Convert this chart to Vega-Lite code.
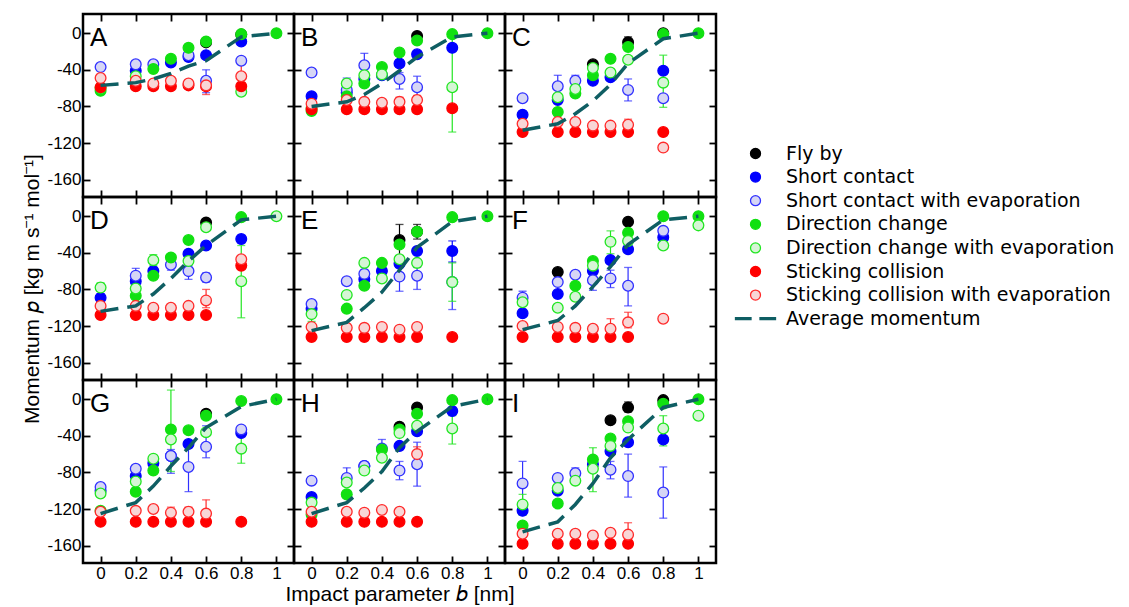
{
"$schema": "https://vega.github.io/schema/vega-lite/v6.json",
"padding": {"left": 20, "top": 11, "right": 5, "bottom": 0},
"datasets": {"d": [
{"p":"A","b":0.6,"s":"FB","v":-10,"lo":-13,"hi":-6},{"p":"A","b":0.8,"s":"FB","v":-1.5},
{"p":"B","b":0.6,"s":"FB","v":-3},
{"p":"C","b":0.4,"s":"FB","v":-34},{"p":"C","b":0.6,"s":"FB","v":-10,"lo":-14,"hi":-4},{"p":"C","b":0.8,"s":"FB","v":0},
{"p":"D","b":0.6,"s":"FB","v":-7},
{"p":"E","b":0.5,"s":"FB","v":-26,"lo":-43,"hi":-9},{"p":"E","b":0.6,"s":"FB","v":-17,"lo":-25,"hi":-9},
{"p":"F","b":0.2,"s":"FB","v":-61},{"p":"F","b":0.6,"s":"FB","v":-6},
{"p":"G","b":0.6,"s":"FB","v":-16},
{"p":"H","b":0.5,"s":"FB","v":-30},{"p":"H","b":0.6,"s":"FB","v":-9,"lo":-13,"hi":-5},
{"p":"I","b":0.5,"s":"FB","v":-23},{"p":"I","b":0.6,"s":"FB","v":-9,"lo":-14,"hi":-3},{"p":"I","b":0.8,"s":"FB","v":-1},

{"p":"A","b":0.2,"s":"SC","v":-41},{"p":"A","b":0.4,"s":"SC","v":-32},{"p":"A","b":0.5,"s":"SC","v":-26},{"p":"A","b":0.6,"s":"SC","v":-24},{"p":"A","b":0.8,"s":"SC","v":-9},
{"p":"B","b":0,"s":"SC","v":-69},{"p":"B","b":0.2,"s":"SC","v":-65},{"p":"B","b":0.3,"s":"SC","v":-50},{"p":"B","b":0.4,"s":"SC","v":-46},{"p":"B","b":0.5,"s":"SC","v":-33},{"p":"B","b":0.6,"s":"SC","v":-23},{"p":"B","b":0.8,"s":"SC","v":-16},
{"p":"C","b":0,"s":"SC","v":-89},{"p":"C","b":0.2,"s":"SC","v":-73},{"p":"C","b":0.4,"s":"SC","v":-52},{"p":"C","b":0.5,"s":"SC","v":-48},{"p":"C","b":0.8,"s":"SC","v":-41},
{"p":"D","b":0,"s":"SC","v":-89},{"p":"D","b":0.2,"s":"SC","v":-71},{"p":"D","b":0.3,"s":"SC","v":-60},{"p":"D","b":0.5,"s":"SC","v":-41},{"p":"D","b":0.6,"s":"SC","v":-32},{"p":"D","b":0.8,"s":"SC","v":-25,"lo":-29,"hi":-21},
{"p":"E","b":0,"s":"SC","v":-101},{"p":"E","b":0.3,"s":"SC","v":-69},{"p":"E","b":0.4,"s":"SC","v":-60},{"p":"E","b":0.5,"s":"SC","v":-52},{"p":"E","b":0.6,"s":"SC","v":-38},{"p":"E","b":0.8,"s":"SC","v":-38,"lo":-50,"hi":-27},
{"p":"F","b":0,"s":"SC","v":-106},{"p":"F","b":0.2,"s":"SC","v":-85},{"p":"F","b":0.4,"s":"SC","v":-60},{"p":"F","b":0.5,"s":"SC","v":-48},{"p":"F","b":0.6,"s":"SC","v":-36},{"p":"F","b":0.8,"s":"SC","v":-23},
{"p":"G","b":0,"s":"SC","v":-100},{"p":"G","b":0.2,"s":"SC","v":-84},{"p":"G","b":0.3,"s":"SC","v":-70},{"p":"G","b":0.4,"s":"SC","v":-62},{"p":"G","b":0.5,"s":"SC","v":-49},{"p":"G","b":0.8,"s":"SC","v":-37},
{"p":"H","b":0,"s":"SC","v":-107},{"p":"H","b":0.3,"s":"SC","v":-73},{"p":"H","b":0.5,"s":"SC","v":-51},{"p":"H","b":0.6,"s":"SC","v":-35},{"p":"H","b":0.8,"s":"SC","v":-13},
{"p":"I","b":0,"s":"SC","v":-122},{"p":"I","b":0.2,"s":"SC","v":-100},{"p":"I","b":0.4,"s":"SC","v":-71},{"p":"I","b":0.5,"s":"SC","v":-57},{"p":"I","b":0.6,"s":"SC","v":-47},{"p":"I","b":0.8,"s":"SC","v":-44},

{"p":"A","b":0,"s":"SE","v":-37},{"p":"A","b":0.2,"s":"SE","v":-34,"lo":-38,"hi":-30},{"p":"A","b":0.3,"s":"SE","v":-34},{"p":"A","b":0.5,"s":"SE","v":-24},{"p":"A","b":0.6,"s":"SE","v":-52,"lo":-65,"hi":-40},{"p":"A","b":0.8,"s":"SE","v":-30},
{"p":"B","b":0,"s":"SE","v":-43},{"p":"B","b":0.2,"s":"SE","v":-62,"lo":-74,"hi":-49},{"p":"B","b":0.3,"s":"SE","v":-35,"lo":-47,"hi":-22},{"p":"B","b":0.5,"s":"SE","v":-50,"lo":-61,"hi":-43},{"p":"B","b":0.6,"s":"SE","v":-59,"lo":-70,"hi":-47},
{"p":"C","b":0,"s":"SE","v":-71},{"p":"C","b":0.2,"s":"SE","v":-58,"lo":-69,"hi":-46},{"p":"C","b":0.3,"s":"SE","v":-52,"lo":-59,"hi":-46},{"p":"C","b":0.6,"s":"SE","v":-62,"lo":-74,"hi":-50},{"p":"C","b":0.8,"s":"SE","v":-71},
{"p":"D","b":0.2,"s":"SE","v":-65,"lo":-74,"hi":-57},{"p":"D","b":0.4,"s":"SE","v":-53,"lo":-59,"hi":-47},{"p":"D","b":0.5,"s":"SE","v":-60,"lo":-69,"hi":-54},{"p":"D","b":0.6,"s":"SE","v":-67,"lo":-72,"hi":-62},
{"p":"E","b":0,"s":"SE","v":-96,"lo":-101,"hi":-92},{"p":"E","b":0.2,"s":"SE","v":-71,"lo":-75,"hi":-67},{"p":"E","b":0.3,"s":"SE","v":-63},{"p":"E","b":0.5,"s":"SE","v":-66,"lo":-82,"hi":-56},{"p":"E","b":0.6,"s":"SE","v":-65,"lo":-80,"hi":-56},{"p":"E","b":0.8,"s":"SE","v":-72,"lo":-102,"hi":-42},
{"p":"F","b":0,"s":"SE","v":-89,"lo":-94,"hi":-82},{"p":"F","b":0.2,"s":"SE","v":-72},{"p":"F","b":0.3,"s":"SE","v":-64},{"p":"F","b":0.4,"s":"SE","v":-70,"lo":-81,"hi":-62},{"p":"F","b":0.5,"s":"SE","v":-68,"lo":-78,"hi":-59},{"p":"F","b":0.6,"s":"SE","v":-76,"lo":-98,"hi":-56},{"p":"F","b":0.8,"s":"SE","v":-16},
{"p":"G","b":0,"s":"SE","v":-96},{"p":"G","b":0.2,"s":"SE","v":-76},{"p":"G","b":0.4,"s":"SE","v":-62,"lo":-81,"hi":-55},{"p":"G","b":0.5,"s":"SE","v":-74,"lo":-101,"hi":-49},{"p":"G","b":0.6,"s":"SE","v":-52,"lo":-64,"hi":-29},{"p":"G","b":0.8,"s":"SE","v":-33},
{"p":"H","b":0,"s":"SE","v":-89},{"p":"H","b":0.2,"s":"SE","v":-86,"lo":-95,"hi":-75},{"p":"H","b":0.3,"s":"SE","v":-73},{"p":"H","b":0.4,"s":"SE","v":-54,"lo":-62,"hi":-44},{"p":"H","b":0.5,"s":"SE","v":-78,"lo":-88,"hi":-68},{"p":"H","b":0.6,"s":"SE","v":-71,"lo":-95,"hi":-47},
{"p":"I","b":0,"s":"SE","v":-92,"lo":-115,"hi":-68},{"p":"I","b":0.2,"s":"SE","v":-86},{"p":"I","b":0.3,"s":"SE","v":-81,"lo":-88,"hi":-75},{"p":"I","b":0.5,"s":"SE","v":-77,"lo":-87,"hi":-68},{"p":"I","b":0.6,"s":"SE","v":-84,"lo":-107,"hi":-60},{"p":"I","b":0.8,"s":"SE","v":-102,"lo":-130,"hi":-74},

{"p":"A","b":0,"s":"DC","v":-63},{"p":"A","b":0.3,"s":"DC","v":-39},{"p":"A","b":0.4,"s":"DC","v":-28},{"p":"A","b":0.5,"s":"DC","v":-16},{"p":"A","b":0.6,"s":"DC","v":-9},{"p":"A","b":0.8,"s":"DC","v":-1},{"p":"A","b":1,"s":"DC","v":0},
{"p":"B","b":0,"s":"DC","v":-85},{"p":"B","b":0.2,"s":"DC","v":-69},{"p":"B","b":0.3,"s":"DC","v":-55},{"p":"B","b":0.4,"s":"DC","v":-37},{"p":"B","b":0.5,"s":"DC","v":-21},{"p":"B","b":0.6,"s":"DC","v":-8},{"p":"B","b":0.8,"s":"DC","v":-1},{"p":"B","b":1,"s":"DC","v":0},
{"p":"C","b":0.2,"s":"DC","v":-86},{"p":"C","b":0.3,"s":"DC","v":-66},{"p":"C","b":0.4,"s":"DC","v":-46},{"p":"C","b":0.5,"s":"DC","v":-28},{"p":"C","b":0.6,"s":"DC","v":-15},{"p":"C","b":0.8,"s":"DC","v":-1},{"p":"C","b":1,"s":"DC","v":0},
{"p":"D","b":0.2,"s":"DC","v":-87},{"p":"D","b":0.3,"s":"DC","v":-65},{"p":"D","b":0.4,"s":"DC","v":-45},{"p":"D","b":0.5,"s":"DC","v":-26},{"p":"D","b":0.8,"s":"DC","v":-1},
{"p":"E","b":0.2,"s":"DC","v":-101},{"p":"E","b":0.3,"s":"DC","v":-76},{"p":"E","b":0.4,"s":"DC","v":-51},{"p":"E","b":0.5,"s":"DC","v":-31},{"p":"E","b":0.6,"s":"DC","v":-17},{"p":"E","b":0.8,"s":"DC","v":-1},{"p":"E","b":1,"s":"DC","v":0},
{"p":"F","b":0.3,"s":"DC","v":-76},{"p":"F","b":0.4,"s":"DC","v":-49},{"p":"F","b":0.6,"s":"DC","v":-18},{"p":"F","b":0.8,"s":"DC","v":0},{"p":"F","b":1,"s":"DC","v":0},
{"p":"G","b":0,"s":"DC","v":-122},{"p":"G","b":0.2,"s":"DC","v":-101},{"p":"G","b":0.3,"s":"DC","v":-78},{"p":"G","b":0.4,"s":"DC","v":-33},{"p":"G","b":0.5,"s":"DC","v":-34},{"p":"G","b":0.6,"s":"DC","v":-18},{"p":"G","b":0.8,"s":"DC","v":-2},{"p":"G","b":1,"s":"DC","v":0},
{"p":"H","b":0,"s":"DC","v":-126},{"p":"H","b":0.2,"s":"DC","v":-104},{"p":"H","b":0.4,"s":"DC","v":-55},{"p":"H","b":0.5,"s":"DC","v":-33},{"p":"H","b":0.6,"s":"DC","v":-16},{"p":"H","b":0.8,"s":"DC","v":-1},{"p":"H","b":1,"s":"DC","v":0},
{"p":"I","b":0,"s":"DC","v":-138},{"p":"I","b":0.2,"s":"DC","v":-114},{"p":"I","b":0.4,"s":"DC","v":-66},{"p":"I","b":0.5,"s":"DC","v":-43},{"p":"I","b":0.6,"s":"DC","v":-24},{"p":"I","b":0.8,"s":"DC","v":-5},{"p":"I","b":1,"s":"DC","v":0},

{"p":"A","b":0,"s":"DE","v":-60},{"p":"A","b":0.2,"s":"DE","v":-47},{"p":"A","b":0.8,"s":"DE","v":-64},
{"p":"B","b":0,"s":"DE","v":-82},{"p":"B","b":0.2,"s":"DE","v":-55},{"p":"B","b":0.3,"s":"DE","v":-46},{"p":"B","b":0.4,"s":"DE","v":-45},{"p":"B","b":0.8,"s":"DE","v":-59,"lo":-108,"hi":0},
{"p":"C","b":0.2,"s":"DE","v":-70},{"p":"C","b":0.3,"s":"DE","v":-61},{"p":"C","b":0.4,"s":"DE","v":-38},{"p":"C","b":0.5,"s":"DE","v":-43},{"p":"C","b":0.6,"s":"DE","v":-29},{"p":"C","b":0.8,"s":"DE","v":-54,"lo":-81,"hi":-24},
{"p":"D","b":0,"s":"DE","v":-78,"lo":-82,"hi":-73},{"p":"D","b":0.2,"s":"DE","v":-79},{"p":"D","b":0.3,"s":"DE","v":-48,"lo":-54,"hi":-42},{"p":"D","b":0.5,"s":"DE","v":-49},{"p":"D","b":0.6,"s":"DE","v":-12},{"p":"D","b":0.8,"s":"DE","v":-71,"lo":-111,"hi":-32},{"p":"D","b":1,"s":"DE","v":0},
{"p":"E","b":0,"s":"DE","v":-107,"lo":-115,"hi":-98},{"p":"E","b":0.2,"s":"DE","v":-86},{"p":"E","b":0.3,"s":"DE","v":-51},{"p":"E","b":0.4,"s":"DE","v":-68},{"p":"E","b":0.5,"s":"DE","v":-47},{"p":"E","b":0.6,"s":"DE","v":-51},{"p":"E","b":0.8,"s":"DE","v":-72,"lo":-93,"hi":-51},
{"p":"F","b":0,"s":"DE","v":-94},{"p":"F","b":0.2,"s":"DE","v":-100},{"p":"F","b":0.3,"s":"DE","v":-88},{"p":"F","b":0.4,"s":"DE","v":-54},{"p":"F","b":0.5,"s":"DE","v":-28,"lo":-41,"hi":-16},{"p":"F","b":0.6,"s":"DE","v":-27},{"p":"F","b":0.8,"s":"DE","v":-32},{"p":"F","b":1,"s":"DE","v":-10},
{"p":"G","b":0,"s":"DE","v":-103},{"p":"G","b":0.2,"s":"DE","v":-90},{"p":"G","b":0.3,"s":"DE","v":-65},{"p":"G","b":0.4,"s":"DE","v":-44,"lo":-79,"hi":10},{"p":"G","b":0.6,"s":"DE","v":-36},{"p":"G","b":0.8,"s":"DE","v":-54,"lo":-70,"hi":-38},
{"p":"H","b":0,"s":"DE","v":-113},{"p":"H","b":0.2,"s":"DE","v":-91},{"p":"H","b":0.3,"s":"DE","v":-78},{"p":"H","b":0.4,"s":"DE","v":-64},{"p":"H","b":0.5,"s":"DE","v":-37},{"p":"H","b":0.6,"s":"DE","v":-29},{"p":"H","b":0.8,"s":"DE","v":-32,"lo":-49,"hi":-18},
{"p":"I","b":0,"s":"DE","v":-115,"lo":-127,"hi":-104},{"p":"I","b":0.2,"s":"DE","v":-97},{"p":"I","b":0.3,"s":"DE","v":-89},{"p":"I","b":0.4,"s":"DE","v":-76,"lo":-101,"hi":-53},{"p":"I","b":0.5,"s":"DE","v":-51},{"p":"I","b":0.6,"s":"DE","v":-31},{"p":"I","b":0.8,"s":"DE","v":-32,"lo":-51,"hi":-18},{"p":"I","b":1,"s":"DE","v":-18},

{"p":"A","b":0,"s":"ST","v":-59},{"p":"A","b":0.2,"s":"ST","v":-58},{"p":"A","b":0.3,"s":"ST","v":-58},{"p":"A","b":0.4,"s":"ST","v":-58},{"p":"A","b":0.5,"s":"ST","v":-57},{"p":"A","b":0.6,"s":"ST","v":-58},{"p":"A","b":0.8,"s":"ST","v":-58},
{"p":"B","b":0,"s":"ST","v":-83},{"p":"B","b":0.2,"s":"ST","v":-83},{"p":"B","b":0.3,"s":"ST","v":-83},{"p":"B","b":0.4,"s":"ST","v":-83},{"p":"B","b":0.5,"s":"ST","v":-83},{"p":"B","b":0.6,"s":"ST","v":-83},{"p":"B","b":0.8,"s":"ST","v":-82},
{"p":"C","b":0,"s":"ST","v":-108},{"p":"C","b":0.2,"s":"ST","v":-108},{"p":"C","b":0.3,"s":"ST","v":-108},{"p":"C","b":0.4,"s":"ST","v":-108},{"p":"C","b":0.5,"s":"ST","v":-108},{"p":"C","b":0.6,"s":"ST","v":-108},{"p":"C","b":0.8,"s":"ST","v":-108},
{"p":"D","b":0,"s":"ST","v":-108},{"p":"D","b":0.2,"s":"ST","v":-108},{"p":"D","b":0.3,"s":"ST","v":-108},{"p":"D","b":0.4,"s":"ST","v":-108},{"p":"D","b":0.5,"s":"ST","v":-108},{"p":"D","b":0.6,"s":"ST","v":-108},{"p":"D","b":0.8,"s":"ST","v":-54},
{"p":"E","b":0,"s":"ST","v":-132},{"p":"E","b":0.2,"s":"ST","v":-132},{"p":"E","b":0.3,"s":"ST","v":-132},{"p":"E","b":0.4,"s":"ST","v":-132},{"p":"E","b":0.5,"s":"ST","v":-132},{"p":"E","b":0.6,"s":"ST","v":-132},{"p":"E","b":0.8,"s":"ST","v":-132},
{"p":"F","b":0,"s":"ST","v":-132},{"p":"F","b":0.2,"s":"ST","v":-132},{"p":"F","b":0.3,"s":"ST","v":-132},{"p":"F","b":0.4,"s":"ST","v":-132},{"p":"F","b":0.5,"s":"ST","v":-132},{"p":"F","b":0.6,"s":"ST","v":-132},
{"p":"G","b":0,"s":"ST","v":-134},{"p":"G","b":0.2,"s":"ST","v":-134},{"p":"G","b":0.3,"s":"ST","v":-134},{"p":"G","b":0.4,"s":"ST","v":-134},{"p":"G","b":0.5,"s":"ST","v":-134},{"p":"G","b":0.6,"s":"ST","v":-134},{"p":"G","b":0.8,"s":"ST","v":-134},
{"p":"H","b":0,"s":"ST","v":-134},{"p":"H","b":0.2,"s":"ST","v":-134},{"p":"H","b":0.3,"s":"ST","v":-134},{"p":"H","b":0.4,"s":"ST","v":-134},{"p":"H","b":0.5,"s":"ST","v":-134},{"p":"H","b":0.6,"s":"ST","v":-134},
{"p":"I","b":0,"s":"ST","v":-158},{"p":"I","b":0.2,"s":"ST","v":-158},{"p":"I","b":0.3,"s":"ST","v":-158},{"p":"I","b":0.4,"s":"ST","v":-158},{"p":"I","b":0.5,"s":"ST","v":-158},{"p":"I","b":0.6,"s":"ST","v":-158},

{"p":"A","b":0,"s":"TE","v":-49},{"p":"A","b":0.2,"s":"TE","v":-52},{"p":"A","b":0.3,"s":"TE","v":-55},{"p":"A","b":0.4,"s":"TE","v":-52},{"p":"A","b":0.5,"s":"TE","v":-55},{"p":"A","b":0.6,"s":"TE","v":-57,"lo":-67,"hi":-49},{"p":"A","b":0.8,"s":"TE","v":-47,"lo":-59,"hi":-33},
{"p":"B","b":0,"s":"TE","v":-77},{"p":"B","b":0.2,"s":"TE","v":-73},{"p":"B","b":0.3,"s":"TE","v":-75},{"p":"B","b":0.4,"s":"TE","v":-76},{"p":"B","b":0.5,"s":"TE","v":-75,"lo":-81,"hi":-70},{"p":"B","b":0.6,"s":"TE","v":-73,"lo":-77,"hi":-68},
{"p":"C","b":0,"s":"TE","v":-99},{"p":"C","b":0.2,"s":"TE","v":-97},{"p":"C","b":0.3,"s":"TE","v":-97},{"p":"C","b":0.4,"s":"TE","v":-101},{"p":"C","b":0.5,"s":"TE","v":-101},{"p":"C","b":0.6,"s":"TE","v":-100,"lo":-104,"hi":-94},{"p":"C","b":0.8,"s":"TE","v":-125},
{"p":"D","b":0,"s":"TE","v":-98},{"p":"D","b":0.2,"s":"TE","v":-98},{"p":"D","b":0.3,"s":"TE","v":-100},{"p":"D","b":0.4,"s":"TE","v":-100},{"p":"D","b":0.5,"s":"TE","v":-98},{"p":"D","b":0.6,"s":"TE","v":-92,"lo":-100,"hi":-80},{"p":"D","b":0.8,"s":"TE","v":-47},
{"p":"E","b":0,"s":"TE","v":-121},{"p":"E","b":0.2,"s":"TE","v":-122},{"p":"E","b":0.3,"s":"TE","v":-122},{"p":"E","b":0.4,"s":"TE","v":-121},{"p":"E","b":0.5,"s":"TE","v":-124},{"p":"E","b":0.6,"s":"TE","v":-121},
{"p":"F","b":0,"s":"TE","v":-120},{"p":"F","b":0.2,"s":"TE","v":-121},{"p":"F","b":0.3,"s":"TE","v":-122},{"p":"F","b":0.4,"s":"TE","v":-123},{"p":"F","b":0.5,"s":"TE","v":-123,"lo":-128,"hi":-112},{"p":"F","b":0.6,"s":"TE","v":-116,"lo":-122,"hi":-105},{"p":"F","b":0.8,"s":"TE","v":-112},
{"p":"G","b":0,"s":"TE","v":-123},{"p":"G","b":0.2,"s":"TE","v":-122},{"p":"G","b":0.3,"s":"TE","v":-120},{"p":"G","b":0.4,"s":"TE","v":-124,"lo":-128,"hi":-118},{"p":"G","b":0.5,"s":"TE","v":-123,"lo":-127,"hi":-118},{"p":"G","b":0.6,"s":"TE","v":-125,"lo":-135,"hi":-110},
{"p":"H","b":0,"s":"TE","v":-123},{"p":"H","b":0.2,"s":"TE","v":-123},{"p":"H","b":0.3,"s":"TE","v":-124},{"p":"H","b":0.4,"s":"TE","v":-121},{"p":"H","b":0.5,"s":"TE","v":-123},{"p":"H","b":0.6,"s":"TE","v":-60,"lo":-70,"hi":-52},
{"p":"I","b":0,"s":"TE","v":-147},{"p":"I","b":0.2,"s":"TE","v":-147},{"p":"I","b":0.3,"s":"TE","v":-147},{"p":"I","b":0.4,"s":"TE","v":-149},{"p":"I","b":0.5,"s":"TE","v":-146},{"p":"I","b":0.6,"s":"TE","v":-148,"lo":-153,"hi":-135},

{"p":"A","b":0,"s":"AV","v":-57},{"p":"A","b":0.2,"s":"AV","v":-54},{"p":"A","b":0.3,"s":"AV","v":-50},{"p":"A","b":0.4,"s":"AV","v":-44},{"p":"A","b":0.5,"s":"AV","v":-36},{"p":"A","b":0.6,"s":"AV","v":-30},{"p":"A","b":0.8,"s":"AV","v":-4},{"p":"A","b":1,"s":"AV","v":0},
{"p":"B","b":0,"s":"AV","v":-80},{"p":"B","b":0.2,"s":"AV","v":-75},{"p":"B","b":0.3,"s":"AV","v":-67},{"p":"B","b":0.4,"s":"AV","v":-55},{"p":"B","b":0.5,"s":"AV","v":-41},{"p":"B","b":0.6,"s":"AV","v":-26},{"p":"B","b":0.8,"s":"AV","v":-4},{"p":"B","b":1,"s":"AV","v":0},
{"p":"C","b":0,"s":"AV","v":-106},{"p":"C","b":0.2,"s":"AV","v":-99},{"p":"C","b":0.3,"s":"AV","v":-88},{"p":"C","b":0.4,"s":"AV","v":-74},{"p":"C","b":0.5,"s":"AV","v":-56},{"p":"C","b":0.6,"s":"AV","v":-33},{"p":"C","b":0.8,"s":"AV","v":-6},{"p":"C","b":1,"s":"AV","v":0},
{"p":"D","b":0,"s":"AV","v":-104},{"p":"D","b":0.2,"s":"AV","v":-98},{"p":"D","b":0.3,"s":"AV","v":-85},{"p":"D","b":0.4,"s":"AV","v":-68},{"p":"D","b":0.5,"s":"AV","v":-49},{"p":"D","b":0.6,"s":"AV","v":-32},{"p":"D","b":0.8,"s":"AV","v":-4},{"p":"D","b":1,"s":"AV","v":0},
{"p":"E","b":0,"s":"AV","v":-125},{"p":"E","b":0.2,"s":"AV","v":-116},{"p":"E","b":0.3,"s":"AV","v":-100},{"p":"E","b":0.4,"s":"AV","v":-83},{"p":"E","b":0.5,"s":"AV","v":-59},{"p":"E","b":0.6,"s":"AV","v":-34},{"p":"E","b":0.8,"s":"AV","v":-6},{"p":"E","b":1,"s":"AV","v":0},
{"p":"F","b":0,"s":"AV","v":-124},{"p":"F","b":0.2,"s":"AV","v":-114},{"p":"F","b":0.3,"s":"AV","v":-98},{"p":"F","b":0.4,"s":"AV","v":-77},{"p":"F","b":0.5,"s":"AV","v":-55},{"p":"F","b":0.6,"s":"AV","v":-31},{"p":"F","b":0.8,"s":"AV","v":-4},{"p":"F","b":1,"s":"AV","v":0},
{"p":"G","b":0,"s":"AV","v":-125},{"p":"G","b":0.2,"s":"AV","v":-113},{"p":"G","b":0.3,"s":"AV","v":-95},{"p":"G","b":0.4,"s":"AV","v":-73},{"p":"G","b":0.5,"s":"AV","v":-53},{"p":"G","b":0.6,"s":"AV","v":-31},{"p":"G","b":0.8,"s":"AV","v":-8},{"p":"G","b":1,"s":"AV","v":0},
{"p":"H","b":0,"s":"AV","v":-125},{"p":"H","b":0.2,"s":"AV","v":-113},{"p":"H","b":0.3,"s":"AV","v":-97},{"p":"H","b":0.4,"s":"AV","v":-79},{"p":"H","b":0.5,"s":"AV","v":-53},{"p":"H","b":0.6,"s":"AV","v":-35},{"p":"H","b":0.8,"s":"AV","v":-8},{"p":"H","b":1,"s":"AV","v":0},
{"p":"I","b":0,"s":"AV","v":-145},{"p":"I","b":0.2,"s":"AV","v":-134},{"p":"I","b":0.3,"s":"AV","v":-115},{"p":"I","b":0.4,"s":"AV","v":-92},{"p":"I","b":0.5,"s":"AV","v":-64},{"p":"I","b":0.6,"s":"AV","v":-44},{"p":"I","b":0.8,"s":"AV","v":-9},{"p":"I","b":1,"s":"AV","v":0}
]},
"data": {"name": "d"},
"columns": 3,
"spacing": 0,
"bounds": "flush",
"concat": [
{"width":211,"height":183,"transform":[{"filter":"datum.p=='A'"}],"resolve":{"axis":{"x":"independent","y":"independent"}},"layer":[
 {"transform":[{"filter":"isValid(datum.lo)"}],"mark":{"type":"rule","strokeWidth":1.2},"encoding":{
  "x":{"field":"b","type":"quantitative","scale":{"domain":[-0.1,1.1],"nice":false,"zero":false},"axis":{"values":[0,0.2,0.4,0.6,0.8,1],"format":"~g","labels":false,"title":null}},
  "y":{"field":"lo","type":"quantitative","scale":{"domain":[-179,21],"nice":false,"zero":false},"axis":{"values":[0,-40,-80,-120,-160],"labelExpr":"replace(datum.label,'−','-')","labels":true,"title":null}},
  "y2":{"field":"hi"},
  "color":{"field":"s","type":"nominal","legend":null,"scale":{"domain":["AV","FB","SC","SE","DC","DE","ST","TE"],"range":["#0f5e63","#000000","#0000ff","#3030ff","#11e011","#22e622","#ff0000","#ff2a2a"]}}}},
 {"transform":[{"filter":"isValid(datum.lo)"},{"fold":["lo","hi"],"as":["k","e"]}],"mark":{"type":"tick","orient":"horizontal","size":8,"thickness":1.3},"encoding":{
  "x":{"field":"b","type":"quantitative","axis":{"orient":"top","values":[0,0.2,0.4,0.6,0.8,1],"labels":false,"title":null}},
  "y":{"field":"e","type":"quantitative","axis":{"orient":"right","values":[0,-40,-80,-120,-160],"labels":false,"title":null}},
  "color":{"field":"s","type":"nominal","legend":null}}},
 {"transform":[{"filter":"datum.s!='AV'"}],"mark":{"type":"point","size":115,"strokeWidth":1.3,"opacity":1,"fillOpacity":1},"encoding":{
  "x":{"field":"b","type":"quantitative","axis":null},"y":{"field":"v","type":"quantitative","axis":null},
  "fill":{"field":"s","type":"nominal","scale":{"domain":["FB","SC","SE","DC","DE","ST","TE","AV"],"range":["#000000","#0000ff","#d6d6f5","#11e011","#d6f5d6","#ff0000","#f8d6d6","#0f5e63"]},"legend":{"title":null,"orient":"none","legendX":663,"legendY":130,"labelExpr":"datum.label=='FB'?'Fly by':datum.label=='SC'?'Short contact':datum.label=='SE'?'Short contact with evaporation':datum.label=='DC'?'Direction change':datum.label=='DE'?'Direction change with evaporation':datum.label=='ST'?'Sticking collision':datum.label=='TE'?'Sticking collision with evaporation':'Average momentum'"}},
  "stroke":{"field":"s","type":"nominal","scale":{"domain":["FB","SC","SE","DC","DE","ST","TE","AV"],"range":["#000000","#0000ff","#3030ff","#11e011","#22e622","#ff0000","#ff2a2a","#0f5e63"]},"legend":{"title":null,"orient":"none","legendX":663,"legendY":130,"labelExpr":"datum.label=='FB'?'Fly by':datum.label=='SC'?'Short contact':datum.label=='SE'?'Short contact with evaporation':datum.label=='DC'?'Direction change':datum.label=='DE'?'Direction change with evaporation':datum.label=='ST'?'Sticking collision':datum.label=='TE'?'Sticking collision with evaporation':'Average momentum'"}},
  "shape":{"field":"s","type":"nominal","scale":{"domain":["FB","SC","SE","DC","DE","ST","TE","AV"],"range":["circle","circle","circle","circle","circle","circle","circle","M-4,-0.2H-0.9V0.2H-4Z M0.9,-0.2H4V0.2H0.9Z"]},"legend":{"title":null,"orient":"none","legendX":663,"legendY":130,"labelExpr":"datum.label=='FB'?'Fly by':datum.label=='SC'?'Short contact':datum.label=='SE'?'Short contact with evaporation':datum.label=='DC'?'Direction change':datum.label=='DE'?'Direction change with evaporation':datum.label=='ST'?'Sticking collision':datum.label=='TE'?'Sticking collision with evaporation':'Average momentum'"}}}},
 {"transform":[{"filter":"datum.s=='AV'"}],"mark":{"type":"line","strokeWidth":3.5,"strokeDash":[18,9]},"encoding":{"x":{"field":"b","type":"quantitative","axis":null},"y":{"field":"v","type":"quantitative","axis":null},"color":{"field":"s","type":"nominal","legend":null}}},
 {"data":{"values":[{"p":"A"}]},"mark":{"type":"text","align":"left","baseline":"middle","fontSize":26},"encoding":{"x":{"datum":-0.06,"type":"quantitative","axis":null},"y":{"datum":-5,"type":"quantitative","axis":null},"text":{"field":"p"}}}
]},
{"width":211,"height":183,"transform":[{"filter":"datum.p=='B'"}],"resolve":{"axis":{"x":"independent","y":"independent"}},"layer":[
 {"transform":[{"filter":"isValid(datum.lo)"}],"mark":{"type":"rule","strokeWidth":1.2},"encoding":{
  "x":{"field":"b","type":"quantitative","scale":{"domain":[-0.1,1.1],"nice":false,"zero":false},"axis":{"values":[0,0.2,0.4,0.6,0.8,1],"labels":false,"title":null}},
  "y":{"field":"lo","type":"quantitative","scale":{"domain":[-179,21],"nice":false,"zero":false},"axis":{"values":[0,-40,-80,-120,-160],"labels":false,"title":null}},
  "y2":{"field":"hi"},"color":{"field":"s","type":"nominal","legend":null}}},
 {"transform":[{"filter":"isValid(datum.lo)"},{"fold":["lo","hi"],"as":["k","e"]}],"mark":{"type":"tick","orient":"horizontal","size":8,"thickness":1.3},"encoding":{
  "x":{"field":"b","type":"quantitative","axis":{"orient":"top","values":[0,0.2,0.4,0.6,0.8,1],"labels":false,"title":null}},
  "y":{"field":"e","type":"quantitative","axis":{"orient":"right","values":[0,-40,-80,-120,-160],"labels":false,"title":null}},
  "color":{"field":"s","type":"nominal","legend":null}}},
 {"transform":[{"filter":"datum.s!='AV'"}],"mark":{"type":"point","size":115,"strokeWidth":1.3,"opacity":1,"fillOpacity":1},"encoding":{
  "x":{"field":"b","type":"quantitative","axis":null},"y":{"field":"v","type":"quantitative","axis":null},
  "fill":{"field":"s","type":"nominal"},"stroke":{"field":"s","type":"nominal"},"shape":{"field":"s","type":"nominal"}}},
 {"transform":[{"filter":"datum.s=='AV'"}],"mark":{"type":"line","strokeWidth":3.5,"strokeDash":[18,9]},"encoding":{"x":{"field":"b","type":"quantitative","axis":null},"y":{"field":"v","type":"quantitative","axis":null},"color":{"field":"s","type":"nominal","legend":null}}},
 {"data":{"values":[{"p":"B"}]},"mark":{"type":"text","align":"left","baseline":"middle","fontSize":26},"encoding":{"x":{"datum":-0.06,"type":"quantitative","axis":null},"y":{"datum":-5,"type":"quantitative","axis":null},"text":{"field":"p"}}}
]},
{"width":211,"height":183,"transform":[{"filter":"datum.p=='C'"}],"resolve":{"axis":{"x":"independent","y":"independent"}},"layer":[
 {"transform":[{"filter":"isValid(datum.lo)"}],"mark":{"type":"rule","strokeWidth":1.2},"encoding":{
  "x":{"field":"b","type":"quantitative","scale":{"domain":[-0.1,1.1],"nice":false,"zero":false},"axis":{"values":[0,0.2,0.4,0.6,0.8,1],"labels":false,"title":null}},
  "y":{"field":"lo","type":"quantitative","scale":{"domain":[-179,21],"nice":false,"zero":false},"axis":{"values":[0,-40,-80,-120,-160],"labels":false,"title":null}},
  "y2":{"field":"hi"},"color":{"field":"s","type":"nominal","legend":null}}},
 {"transform":[{"filter":"isValid(datum.lo)"},{"fold":["lo","hi"],"as":["k","e"]}],"mark":{"type":"tick","orient":"horizontal","size":8,"thickness":1.3},"encoding":{
  "x":{"field":"b","type":"quantitative","axis":{"orient":"top","values":[0,0.2,0.4,0.6,0.8,1],"labels":false,"title":null}},
  "y":{"field":"e","type":"quantitative","axis":{"orient":"right","values":[0,-40,-80,-120,-160],"labels":false,"title":null}},
  "color":{"field":"s","type":"nominal","legend":null}}},
 {"transform":[{"filter":"datum.s!='AV'"}],"mark":{"type":"point","size":115,"strokeWidth":1.3,"opacity":1,"fillOpacity":1},"encoding":{
  "x":{"field":"b","type":"quantitative","axis":null},"y":{"field":"v","type":"quantitative","axis":null},
  "fill":{"field":"s","type":"nominal"},"stroke":{"field":"s","type":"nominal"},"shape":{"field":"s","type":"nominal"}}},
 {"transform":[{"filter":"datum.s=='AV'"}],"mark":{"type":"line","strokeWidth":3.5,"strokeDash":[18,9]},"encoding":{"x":{"field":"b","type":"quantitative","axis":null},"y":{"field":"v","type":"quantitative","axis":null},"color":{"field":"s","type":"nominal","legend":null}}},
 {"data":{"values":[{"p":"C"}]},"mark":{"type":"text","align":"left","baseline":"middle","fontSize":26},"encoding":{"x":{"datum":-0.06,"type":"quantitative","axis":null},"y":{"datum":-5,"type":"quantitative","axis":null},"text":{"field":"p"}}}
]},
{"width":211,"height":183,"transform":[{"filter":"datum.p=='D'"}],"resolve":{"axis":{"x":"independent","y":"independent"}},"layer":[
 {"transform":[{"filter":"isValid(datum.lo)"}],"mark":{"type":"rule","strokeWidth":1.2},"encoding":{
  "x":{"field":"b","type":"quantitative","scale":{"domain":[-0.1,1.1],"nice":false,"zero":false},"axis":{"values":[0,0.2,0.4,0.6,0.8,1],"labels":false,"title":null}},
  "y":{"field":"lo","type":"quantitative","scale":{"domain":[-179,21],"nice":false,"zero":false},"axis":{"values":[0,-40,-80,-120,-160],"labelExpr":"replace(datum.label,'−','-')","labels":true,"title":"Momentum 𝑝 [kg m s⁻¹ mol⁻¹]"}},
  "y2":{"field":"hi"},"color":{"field":"s","type":"nominal","legend":null}}},
 {"transform":[{"filter":"isValid(datum.lo)"},{"fold":["lo","hi"],"as":["k","e"]}],"mark":{"type":"tick","orient":"horizontal","size":8,"thickness":1.3},"encoding":{
  "x":{"field":"b","type":"quantitative","axis":{"orient":"top","values":[0,0.2,0.4,0.6,0.8,1],"labels":false,"title":null}},
  "y":{"field":"e","type":"quantitative","axis":{"orient":"right","values":[0,-40,-80,-120,-160],"labels":false,"title":null}},
  "color":{"field":"s","type":"nominal","legend":null}}},
 {"transform":[{"filter":"datum.s!='AV'"}],"mark":{"type":"point","size":115,"strokeWidth":1.3,"opacity":1,"fillOpacity":1},"encoding":{
  "x":{"field":"b","type":"quantitative","axis":null},"y":{"field":"v","type":"quantitative","axis":null},
  "fill":{"field":"s","type":"nominal"},"stroke":{"field":"s","type":"nominal"},"shape":{"field":"s","type":"nominal"}}},
 {"transform":[{"filter":"datum.s=='AV'"}],"mark":{"type":"line","strokeWidth":3.5,"strokeDash":[18,9]},"encoding":{"x":{"field":"b","type":"quantitative","axis":null},"y":{"field":"v","type":"quantitative","axis":null},"color":{"field":"s","type":"nominal","legend":null}}},
 {"data":{"values":[{"p":"D"}]},"mark":{"type":"text","align":"left","baseline":"middle","fontSize":26},"encoding":{"x":{"datum":-0.06,"type":"quantitative","axis":null},"y":{"datum":-5,"type":"quantitative","axis":null},"text":{"field":"p"}}}
]},
{"width":211,"height":183,"transform":[{"filter":"datum.p=='E'"}],"resolve":{"axis":{"x":"independent","y":"independent"}},"layer":[
 {"transform":[{"filter":"isValid(datum.lo)"}],"mark":{"type":"rule","strokeWidth":1.2},"encoding":{
  "x":{"field":"b","type":"quantitative","scale":{"domain":[-0.1,1.1],"nice":false,"zero":false},"axis":{"values":[0,0.2,0.4,0.6,0.8,1],"labels":false,"title":null}},
  "y":{"field":"lo","type":"quantitative","scale":{"domain":[-179,21],"nice":false,"zero":false},"axis":{"values":[0,-40,-80,-120,-160],"labels":false,"title":null}},
  "y2":{"field":"hi"},"color":{"field":"s","type":"nominal","legend":null}}},
 {"transform":[{"filter":"isValid(datum.lo)"},{"fold":["lo","hi"],"as":["k","e"]}],"mark":{"type":"tick","orient":"horizontal","size":8,"thickness":1.3},"encoding":{
  "x":{"field":"b","type":"quantitative","axis":{"orient":"top","values":[0,0.2,0.4,0.6,0.8,1],"labels":false,"title":null}},
  "y":{"field":"e","type":"quantitative","axis":{"orient":"right","values":[0,-40,-80,-120,-160],"labels":false,"title":null}},
  "color":{"field":"s","type":"nominal","legend":null}}},
 {"transform":[{"filter":"datum.s!='AV'"}],"mark":{"type":"point","size":115,"strokeWidth":1.3,"opacity":1,"fillOpacity":1},"encoding":{
  "x":{"field":"b","type":"quantitative","axis":null},"y":{"field":"v","type":"quantitative","axis":null},
  "fill":{"field":"s","type":"nominal"},"stroke":{"field":"s","type":"nominal"},"shape":{"field":"s","type":"nominal"}}},
 {"transform":[{"filter":"datum.s=='AV'"}],"mark":{"type":"line","strokeWidth":3.5,"strokeDash":[18,9]},"encoding":{"x":{"field":"b","type":"quantitative","axis":null},"y":{"field":"v","type":"quantitative","axis":null},"color":{"field":"s","type":"nominal","legend":null}}},
 {"data":{"values":[{"p":"E"}]},"mark":{"type":"text","align":"left","baseline":"middle","fontSize":26},"encoding":{"x":{"datum":-0.06,"type":"quantitative","axis":null},"y":{"datum":-5,"type":"quantitative","axis":null},"text":{"field":"p"}}}
]},
{"width":211,"height":183,"transform":[{"filter":"datum.p=='F'"}],"resolve":{"axis":{"x":"independent","y":"independent"}},"layer":[
 {"transform":[{"filter":"isValid(datum.lo)"}],"mark":{"type":"rule","strokeWidth":1.2},"encoding":{
  "x":{"field":"b","type":"quantitative","scale":{"domain":[-0.1,1.1],"nice":false,"zero":false},"axis":{"values":[0,0.2,0.4,0.6,0.8,1],"labels":false,"title":null}},
  "y":{"field":"lo","type":"quantitative","scale":{"domain":[-179,21],"nice":false,"zero":false},"axis":{"values":[0,-40,-80,-120,-160],"labels":false,"title":null}},
  "y2":{"field":"hi"},"color":{"field":"s","type":"nominal","legend":null}}},
 {"transform":[{"filter":"isValid(datum.lo)"},{"fold":["lo","hi"],"as":["k","e"]}],"mark":{"type":"tick","orient":"horizontal","size":8,"thickness":1.3},"encoding":{
  "x":{"field":"b","type":"quantitative","axis":{"orient":"top","values":[0,0.2,0.4,0.6,0.8,1],"labels":false,"title":null}},
  "y":{"field":"e","type":"quantitative","axis":{"orient":"right","values":[0,-40,-80,-120,-160],"labels":false,"title":null}},
  "color":{"field":"s","type":"nominal","legend":null}}},
 {"transform":[{"filter":"datum.s!='AV'"}],"mark":{"type":"point","size":115,"strokeWidth":1.3,"opacity":1,"fillOpacity":1},"encoding":{
  "x":{"field":"b","type":"quantitative","axis":null},"y":{"field":"v","type":"quantitative","axis":null},
  "fill":{"field":"s","type":"nominal"},"stroke":{"field":"s","type":"nominal"},"shape":{"field":"s","type":"nominal"}}},
 {"transform":[{"filter":"datum.s=='AV'"}],"mark":{"type":"line","strokeWidth":3.5,"strokeDash":[18,9]},"encoding":{"x":{"field":"b","type":"quantitative","axis":null},"y":{"field":"v","type":"quantitative","axis":null},"color":{"field":"s","type":"nominal","legend":null}}},
 {"data":{"values":[{"p":"F"}]},"mark":{"type":"text","align":"left","baseline":"middle","fontSize":26},"encoding":{"x":{"datum":-0.06,"type":"quantitative","axis":null},"y":{"datum":-5,"type":"quantitative","axis":null},"text":{"field":"p"}}}
]},
{"width":211,"height":183,"transform":[{"filter":"datum.p=='G'"}],"resolve":{"axis":{"x":"independent","y":"independent"}},"layer":[
 {"transform":[{"filter":"isValid(datum.lo)"}],"mark":{"type":"rule","strokeWidth":1.2},"encoding":{
  "x":{"field":"b","type":"quantitative","scale":{"domain":[-0.1,1.1],"nice":false,"zero":false},"axis":{"values":[0,0.2,0.4,0.6,0.8,1],"format":"~g","labels":true,"title":null}},
  "y":{"field":"lo","type":"quantitative","scale":{"domain":[-179,21],"nice":false,"zero":false},"axis":{"values":[0,-40,-80,-120,-160],"labelExpr":"replace(datum.label,'−','-')","labels":true,"title":null}},
  "y2":{"field":"hi"},"color":{"field":"s","type":"nominal","legend":null}}},
 {"transform":[{"filter":"isValid(datum.lo)"},{"fold":["lo","hi"],"as":["k","e"]}],"mark":{"type":"tick","orient":"horizontal","size":8,"thickness":1.3},"encoding":{
  "x":{"field":"b","type":"quantitative","axis":{"orient":"top","values":[0,0.2,0.4,0.6,0.8,1],"labels":false,"title":null}},
  "y":{"field":"e","type":"quantitative","axis":{"orient":"right","values":[0,-40,-80,-120,-160],"labels":false,"title":null}},
  "color":{"field":"s","type":"nominal","legend":null}}},
 {"transform":[{"filter":"datum.s!='AV'"}],"mark":{"type":"point","size":115,"strokeWidth":1.3,"opacity":1,"fillOpacity":1},"encoding":{
  "x":{"field":"b","type":"quantitative","axis":null},"y":{"field":"v","type":"quantitative","axis":null},
  "fill":{"field":"s","type":"nominal"},"stroke":{"field":"s","type":"nominal"},"shape":{"field":"s","type":"nominal"}}},
 {"transform":[{"filter":"datum.s=='AV'"}],"mark":{"type":"line","strokeWidth":3.5,"strokeDash":[18,9]},"encoding":{"x":{"field":"b","type":"quantitative","axis":null},"y":{"field":"v","type":"quantitative","axis":null},"color":{"field":"s","type":"nominal","legend":null}}},
 {"data":{"values":[{"p":"G"}]},"mark":{"type":"text","align":"left","baseline":"middle","fontSize":26},"encoding":{"x":{"datum":-0.06,"type":"quantitative","axis":null},"y":{"datum":-5,"type":"quantitative","axis":null},"text":{"field":"p"}}}
]},
{"width":211,"height":183,"transform":[{"filter":"datum.p=='H'"}],"resolve":{"axis":{"x":"independent","y":"independent"}},"layer":[
 {"transform":[{"filter":"isValid(datum.lo)"}],"mark":{"type":"rule","strokeWidth":1.2},"encoding":{
  "x":{"field":"b","type":"quantitative","scale":{"domain":[-0.1,1.1],"nice":false,"zero":false},"axis":{"values":[0,0.2,0.4,0.6,0.8,1],"format":"~g","labels":true,"title":"Impact parameter 𝑏 [nm]"}},
  "y":{"field":"lo","type":"quantitative","scale":{"domain":[-179,21],"nice":false,"zero":false},"axis":{"values":[0,-40,-80,-120,-160],"labels":false,"title":null}},
  "y2":{"field":"hi"},"color":{"field":"s","type":"nominal","legend":null}}},
 {"transform":[{"filter":"isValid(datum.lo)"},{"fold":["lo","hi"],"as":["k","e"]}],"mark":{"type":"tick","orient":"horizontal","size":8,"thickness":1.3},"encoding":{
  "x":{"field":"b","type":"quantitative","axis":{"orient":"top","values":[0,0.2,0.4,0.6,0.8,1],"labels":false,"title":null}},
  "y":{"field":"e","type":"quantitative","axis":{"orient":"right","values":[0,-40,-80,-120,-160],"labels":false,"title":null}},
  "color":{"field":"s","type":"nominal","legend":null}}},
 {"transform":[{"filter":"datum.s!='AV'"}],"mark":{"type":"point","size":115,"strokeWidth":1.3,"opacity":1,"fillOpacity":1},"encoding":{
  "x":{"field":"b","type":"quantitative","axis":null},"y":{"field":"v","type":"quantitative","axis":null},
  "fill":{"field":"s","type":"nominal"},"stroke":{"field":"s","type":"nominal"},"shape":{"field":"s","type":"nominal"}}},
 {"transform":[{"filter":"datum.s=='AV'"}],"mark":{"type":"line","strokeWidth":3.5,"strokeDash":[18,9]},"encoding":{"x":{"field":"b","type":"quantitative","axis":null},"y":{"field":"v","type":"quantitative","axis":null},"color":{"field":"s","type":"nominal","legend":null}}},
 {"data":{"values":[{"p":"H"}]},"mark":{"type":"text","align":"left","baseline":"middle","fontSize":26},"encoding":{"x":{"datum":-0.06,"type":"quantitative","axis":null},"y":{"datum":-5,"type":"quantitative","axis":null},"text":{"field":"p"}}}
]},
{"width":211,"height":183,"transform":[{"filter":"datum.p=='I'"}],"resolve":{"axis":{"x":"independent","y":"independent"}},"layer":[
 {"transform":[{"filter":"isValid(datum.lo)"}],"mark":{"type":"rule","strokeWidth":1.2},"encoding":{
  "x":{"field":"b","type":"quantitative","scale":{"domain":[-0.1,1.1],"nice":false,"zero":false},"axis":{"values":[0,0.2,0.4,0.6,0.8,1],"format":"~g","labels":true,"title":null}},
  "y":{"field":"lo","type":"quantitative","scale":{"domain":[-179,21],"nice":false,"zero":false},"axis":{"values":[0,-40,-80,-120,-160],"labels":false,"title":null}},
  "y2":{"field":"hi"},"color":{"field":"s","type":"nominal","legend":null}}},
 {"transform":[{"filter":"isValid(datum.lo)"},{"fold":["lo","hi"],"as":["k","e"]}],"mark":{"type":"tick","orient":"horizontal","size":8,"thickness":1.3},"encoding":{
  "x":{"field":"b","type":"quantitative","axis":{"orient":"top","values":[0,0.2,0.4,0.6,0.8,1],"labels":false,"title":null}},
  "y":{"field":"e","type":"quantitative","axis":{"orient":"right","values":[0,-40,-80,-120,-160],"labels":false,"title":null}},
  "color":{"field":"s","type":"nominal","legend":null}}},
 {"transform":[{"filter":"datum.s!='AV'"}],"mark":{"type":"point","size":115,"strokeWidth":1.3,"opacity":1,"fillOpacity":1},"encoding":{
  "x":{"field":"b","type":"quantitative","axis":null},"y":{"field":"v","type":"quantitative","axis":null},
  "fill":{"field":"s","type":"nominal"},"stroke":{"field":"s","type":"nominal"},"shape":{"field":"s","type":"nominal"}}},
 {"transform":[{"filter":"datum.s=='AV'"}],"mark":{"type":"line","strokeWidth":3.5,"strokeDash":[18,9]},"encoding":{"x":{"field":"b","type":"quantitative","axis":null},"y":{"field":"v","type":"quantitative","axis":null},"color":{"field":"s","type":"nominal","legend":null}}},
 {"data":{"values":[{"p":"I"}]},"mark":{"type":"text","align":"left","baseline":"middle","fontSize":26},"encoding":{"x":{"datum":-0.06,"type":"quantitative","axis":null},"y":{"datum":-5,"type":"quantitative","axis":null},"text":{"field":"p"}}}
]}
],
"config": {
 "font": "Liberation Sans",
 "view": {"stroke": "black", "strokeWidth": 2.5},
 "axis": {"domain": false, "grid": false, "tickColor": "black", "tickWidth": 1.8, "tickSize": -7, "labelFont": "Liberation Sans", "labelFontSize": 17, "labelColor": "black", "titleFont": "Liberation Sans", "titleFontSize": 21, "titleFontWeight": "normal", "titleColor": "black"},
 "axisX": {"labelPadding": 9, "titlePadding": 2},
 "axisY": {"labelPadding": 9, "titlePadding": 4},
 "legend": {"labelFontSize": 19, "labelFont": "DejaVu Sans", "labelColor": "black", "symbolSize": 100, "symbolStrokeWidth": 1.3, "rowPadding": 3.6, "labelOffset": 21, "padding": 0, "labelLimit": 400}
}
}
